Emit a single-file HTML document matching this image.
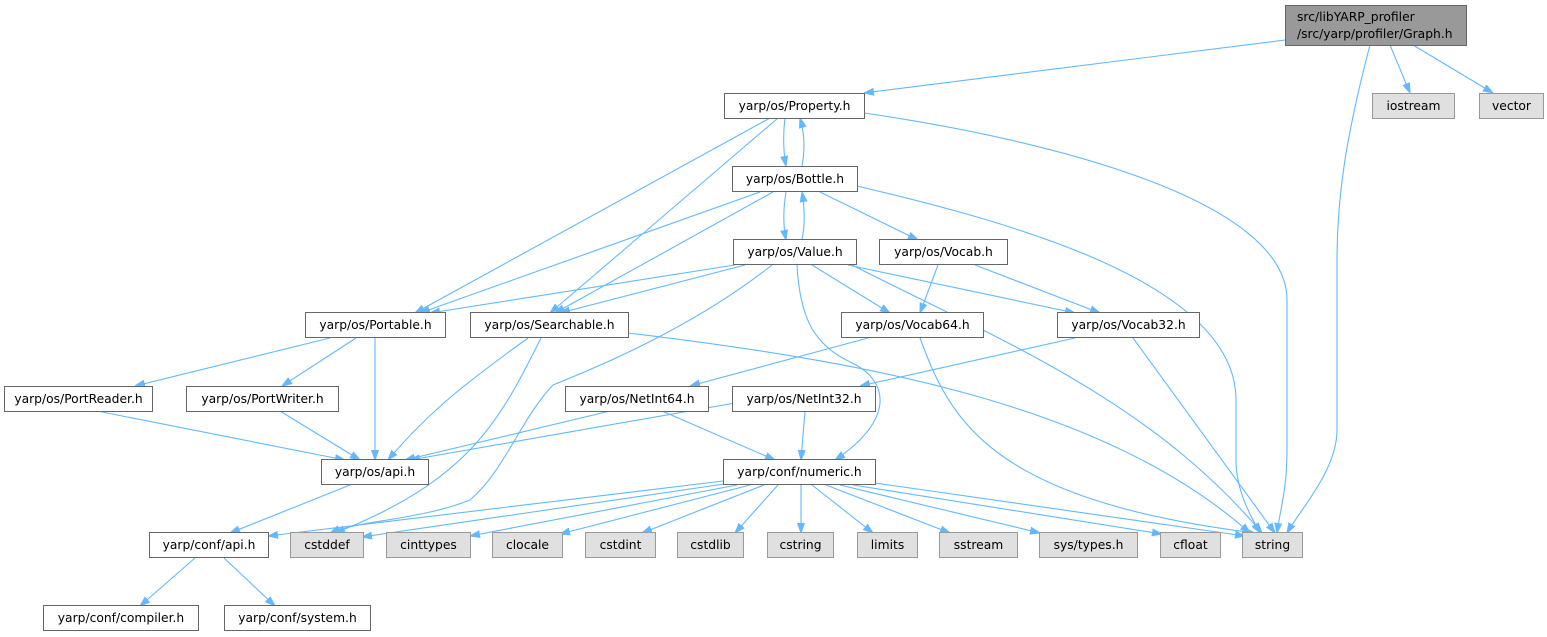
<!DOCTYPE html>
<html><head><meta charset="utf-8"><style>
html,body{margin:0;padding:0;background:#fff;}
svg{display:block;}
text{font-family:"DejaVu Sans","Liberation Sans",sans-serif;font-size:12.3px;fill:#000;}
.n rect{fill:#fff;stroke:#666;stroke-width:1;}
.g rect{fill:#e0e0e0;stroke:#999;stroke-width:1;}
.e path{fill:none;stroke:#63b8ff;stroke-width:1.1;}
</style></head><body>
<svg width="1547" height="637" viewBox="0 0 1547 637">
<defs><marker id="a" viewBox="0 0 10 10" refX="10" refY="5" markerWidth="10" markerHeight="10" markerUnits="userSpaceOnUse" orient="auto"><path d="M0,1.5 L10,5 L0,8.5 Z" fill="#63b8ff" stroke="#63b8ff"/></marker></defs>
<g class="e">
<path d="M1285,40 L864,93" marker-end="url(#a)"/>
<path d="M1370,45 C1345,140 1337,200 1337,260 L1337,430 C1337,470 1300,510 1287,533" marker-end="url(#a)"/>
<path d="M1390,45 L1410,93" marker-end="url(#a)"/>
<path d="M1413,45 L1493,93" marker-end="url(#a)"/>
<path d="M785,118 C783,135 783,150 786,166" marker-end="url(#a)"/>
<path d="M802,166 C805,150 805,135 800,118" marker-end="url(#a)"/>
<path d="M770,118 L415,313" marker-end="url(#a)"/>
<path d="M778,118 L550,313" marker-end="url(#a)"/>
<path d="M864,113 C1050,140 1287,200 1287,300 L1287,450 C1287,490 1280,510 1277,533" marker-end="url(#a)"/>
<path d="M786,192 C783,210 783,225 786,240" marker-end="url(#a)"/>
<path d="M802,240 C805,225 805,210 802,192" marker-end="url(#a)"/>
<path d="M760,192 L420,313" marker-end="url(#a)"/>
<path d="M773,192 L555,313" marker-end="url(#a)"/>
<path d="M820,192 L918,240" marker-end="url(#a)"/>
<path d="M857,186 C1000,220 1236,280 1236,400 L1236,460 C1236,490 1250,515 1260,533" marker-end="url(#a)"/>
<path d="M735,265 L430,313" marker-end="url(#a)"/>
<path d="M745,265 L560,313" marker-end="url(#a)"/>
<path d="M772,265 C690,330 590,370 553,385 C520,420 505,470 470,500 C420,520 360,520 330,533" marker-end="url(#a)"/>
<path d="M812,265 L890,313" marker-end="url(#a)"/>
<path d="M848,265 L1075,313" marker-end="url(#a)"/>
<path d="M797,265 C800,320 815,345 850,362 C890,380 895,420 835,460" marker-end="url(#a)"/>
<path d="M852,265 C1000,340 1150,400 1262,533" marker-end="url(#a)"/>
<path d="M938,265 L920,313" marker-end="url(#a)"/>
<path d="M975,265 L1100,313" marker-end="url(#a)"/>
<path d="M868,338 L690,386" marker-end="url(#a)"/>
<path d="M920,338 C950,420 990,500 1255,533" marker-end="url(#a)"/>
<path d="M1075,338 L860,386" marker-end="url(#a)"/>
<path d="M1133,338 L1275,533" marker-end="url(#a)"/>
<path d="M330,338 L135,386" marker-end="url(#a)"/>
<path d="M356,338 L282,386" marker-end="url(#a)"/>
<path d="M375,338 L375,460" marker-end="url(#a)"/>
<path d="M528,338 C470,380 430,410 388,460" marker-end="url(#a)"/>
<path d="M541,338 C500,420 470,480 335,533" marker-end="url(#a)"/>
<path d="M628,333 C850,360 1100,400 1250,533" marker-end="url(#a)"/>
<path d="M97,411 L345,460" marker-end="url(#a)"/>
<path d="M280,411 L360,460" marker-end="url(#a)"/>
<path d="M610,411 L405,460" marker-end="url(#a)"/>
<path d="M662,411 L775,460" marker-end="url(#a)"/>
<path d="M735,403 L410,460" marker-end="url(#a)"/>
<path d="M805,411 L801,460" marker-end="url(#a)"/>
<path d="M350,485 L230,533" marker-end="url(#a)"/>
<path d="M723,481 L268,536" marker-end="url(#a)"/>
<path d="M724,484 L362,537" marker-end="url(#a)"/>
<path d="M737,485 L470,536" marker-end="url(#a)"/>
<path d="M750,485 L560,534" marker-end="url(#a)"/>
<path d="M764,485 L642,533" marker-end="url(#a)"/>
<path d="M778,485 L735,533" marker-end="url(#a)"/>
<path d="M801,485 L801,533" marker-end="url(#a)"/>
<path d="M812,485 L873,533" marker-end="url(#a)"/>
<path d="M826,485 L950,533" marker-end="url(#a)"/>
<path d="M840,485 L1040,533" marker-end="url(#a)"/>
<path d="M853,485 L1162,534" marker-end="url(#a)"/>
<path d="M875,483 L1245,536" marker-end="url(#a)"/>
<path d="M195,558 L140,606" marker-end="url(#a)"/>
<path d="M224,558 L275,606" marker-end="url(#a)"/>
</g>
<g>
<rect x="1285.5" y="5.5" width="181" height="40" fill="#999" stroke="#666"/>
<text x="1297" y="21">src/libYARP_profiler</text>
<text x="1297" y="38">/src/yarp/profiler/Graph.h</text>
</g>
<g text-anchor="middle">
<g class="n"><rect x="724.5" y="93.5" width="140" height="25"/><text x="794.5" y="110">yarp/os/Property.h</text></g>
<g class="n"><rect x="732.5" y="166.5" width="125" height="25"/><text x="795" y="183">yarp/os/Bottle.h</text></g>
<g class="n"><rect x="733.5" y="239.5" width="123" height="25"/><text x="795" y="256">yarp/os/Value.h</text></g>
<g class="n"><rect x="879.5" y="239.5" width="128" height="25"/><text x="943.5" y="256">yarp/os/Vocab.h</text></g>
<g class="n"><rect x="841.5" y="312.5" width="142" height="25"/><text x="912.5" y="329">yarp/os/Vocab64.h</text></g>
<g class="n"><rect x="1057.5" y="312.5" width="142" height="25"/><text x="1128.5" y="329">yarp/os/Vocab32.h</text></g>
<g class="n"><rect x="305.5" y="312.5" width="140" height="25"/><text x="375.5" y="329">yarp/os/Portable.h</text></g>
<g class="n"><rect x="470.5" y="312.5" width="158" height="25"/><text x="549.5" y="329">yarp/os/Searchable.h</text></g>
<g class="n"><rect x="4.5" y="386.5" width="148" height="25"/><text x="78.5" y="403">yarp/os/PortReader.h</text></g>
<g class="n"><rect x="186.5" y="386.5" width="152" height="25"/><text x="262.5" y="403">yarp/os/PortWriter.h</text></g>
<g class="n"><rect x="565.5" y="386.5" width="143" height="25"/><text x="637" y="403">yarp/os/NetInt64.h</text></g>
<g class="n"><rect x="732.5" y="386.5" width="143" height="25"/><text x="804" y="403">yarp/os/NetInt32.h</text></g>
<g class="n"><rect x="321.5" y="459.5" width="107" height="25"/><text x="375" y="476">yarp/os/api.h</text></g>
<g class="n"><rect x="723.5" y="459.5" width="152" height="25"/><text x="799.5" y="476">yarp/conf/numeric.h</text></g>
<g class="n"><rect x="149.5" y="532.5" width="119" height="25"/><text x="209" y="549">yarp/conf/api.h</text></g>
<g class="n"><rect x="43.5" y="605.5" width="155" height="25"/><text x="121" y="622">yarp/conf/compiler.h</text></g>
<g class="n"><rect x="224.5" y="605.5" width="146" height="25"/><text x="297.5" y="622">yarp/conf/system.h</text></g>
<g class="g"><rect x="1372.5" y="93.5" width="82" height="25"/><text x="1413.5" y="110">iostream</text></g>
<g class="g"><rect x="1479.5" y="93.5" width="64" height="25"/><text x="1511.5" y="110">vector</text></g>
<g class="g"><rect x="290.5" y="532.5" width="73" height="25"/><text x="327" y="549">cstddef</text></g>
<g class="g"><rect x="386.5" y="532.5" width="84" height="25"/><text x="428.5" y="549">cinttypes</text></g>
<g class="g"><rect x="492.5" y="532.5" width="70" height="25"/><text x="527.5" y="549">clocale</text></g>
<g class="g"><rect x="585.5" y="532.5" width="70" height="25"/><text x="620.5" y="549">cstdint</text></g>
<g class="g"><rect x="677.5" y="532.5" width="66" height="25"/><text x="710.5" y="549">cstdlib</text></g>
<g class="g"><rect x="767.5" y="532.5" width="66" height="25"/><text x="800.5" y="549">cstring</text></g>
<g class="g"><rect x="857.5" y="532.5" width="60" height="25"/><text x="887.5" y="549">limits</text></g>
<g class="g"><rect x="939.5" y="532.5" width="78" height="25"/><text x="978.5" y="549">sstream</text></g>
<g class="g"><rect x="1039.5" y="532.5" width="98" height="25"/><text x="1088.5" y="549">sys/types.h</text></g>
<g class="g"><rect x="1160.5" y="532.5" width="60" height="25"/><text x="1190.5" y="549">cfloat</text></g>
<g class="g"><rect x="1242.5" y="532.5" width="60" height="25"/><text x="1272.5" y="549">string</text></g>
</g>
</svg>
</body></html>
